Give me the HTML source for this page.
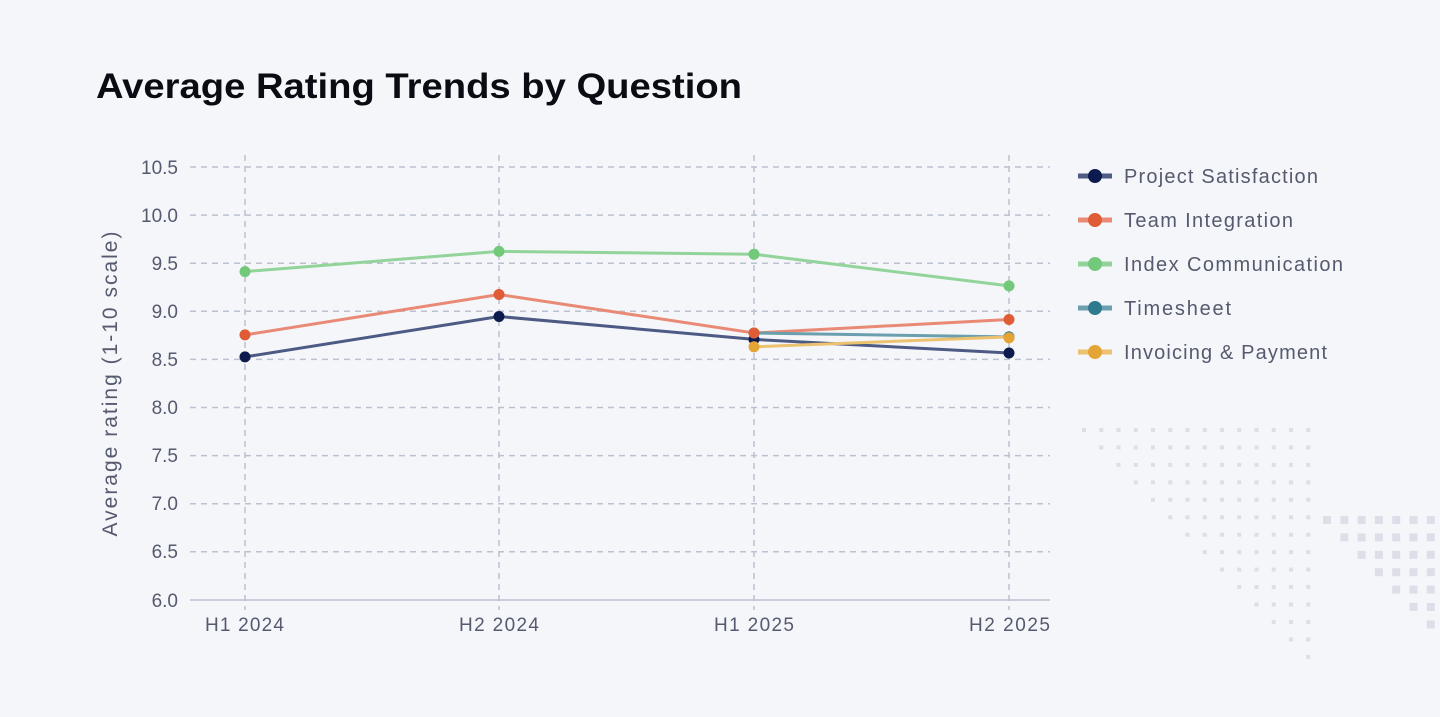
<!DOCTYPE html>
<html><head><meta charset="utf-8"><style>
html,body{margin:0;padding:0;background:#f4f6fa;}
body{width:1440px;height:712px;overflow:hidden;font-family:"Liberation Sans",sans-serif;}
</style></head><body>
<svg id="s" width="1440" height="712" xmlns="http://www.w3.org/2000/svg" font-family="Liberation Sans, sans-serif">
<rect width="1440" height="712" fill="#f4f6fa"/>
<text x="96" y="98" font-size="35" font-weight="bold" fill="#0b0b14" textLength="646" lengthAdjust="spacingAndGlyphs">Average Rating Trends by Question</text>
<g id="dots"></g>
<g stroke="#bcc1d0" stroke-width="1.5" stroke-dasharray="6,5">
<line x1="190" x2="1050" y1="167" y2="167"/><line x1="190" x2="1050" y1="215.1" y2="215.1"/>
<line x1="190" x2="1050" y1="263.2" y2="263.2"/><line x1="190" x2="1050" y1="311.3" y2="311.3"/>
<line x1="190" x2="1050" y1="359.4" y2="359.4"/><line x1="190" x2="1050" y1="407.5" y2="407.5"/>
<line x1="190" x2="1050" y1="455.6" y2="455.6"/><line x1="190" x2="1050" y1="503.7" y2="503.7"/>
<line x1="190" x2="1050" y1="551.8" y2="551.8"/>
<line x1="245" x2="245" y1="155" y2="610"/><line x1="499" x2="499" y1="155" y2="610"/>
<line x1="754" x2="754" y1="155" y2="610"/><line x1="1009" x2="1009" y1="155" y2="610"/>
</g>
<line x1="190" x2="1050" y1="600" y2="600" stroke="#bcc1d0" stroke-width="1.5"/>
<g font-size="19" fill="#555a6e" text-anchor="end">
<text x="178" y="174">10.5</text><text x="178" y="222">10.0</text><text x="178" y="270">9.5</text>
<text x="178" y="318">9.0</text><text x="178" y="366">8.5</text><text x="178" y="414">8.0</text>
<text x="178" y="462">7.5</text><text x="178" y="510">7.0</text><text x="178" y="558">6.5</text>
<text x="178" y="607">6.0</text>
</g>
<g font-size="19" fill="#555a6e">
<text x="205" y="631" textLength="79">H1 2024</text><text x="459" y="631" textLength="80">H2 2024</text>
<text x="714" y="631" textLength="80">H1 2025</text><text x="969" y="631" textLength="81">H2 2025</text>
</g>
<text transform="translate(117,384) rotate(-90)" font-size="21" fill="#555a6e" text-anchor="middle" textLength="305">Average rating (1-10 scale)</text>
<g fill="none" stroke-width="3">
<polyline points="245,271.6 499,251.4 754,254.2 1009,285.9" stroke="#92d49a"/>
<polyline points="245,334.9 499,294.5 754,333 1009,319.5" stroke="#e98a76"/>
<polyline points="245,356.9 499,316.5 754,339.4 1009,353" stroke="#4c5a84"/>
<polyline points="754,333 1009,336.9" stroke="#6b9fae"/>
<polyline points="754,346.8 1009,336.9" stroke="#ecc26e"/>
</g>
<g>
<circle cx="245" cy="271.6" r="5.5" fill="#72c97a"/><circle cx="499" cy="251.4" r="5.5" fill="#72c97a"/><circle cx="754" cy="254.2" r="5.5" fill="#72c97a"/><circle cx="1009" cy="285.9" r="5.5" fill="#72c97a"/>
<circle cx="245" cy="356.9" r="5.5" fill="#0c1a4e"/><circle cx="499" cy="316.5" r="5.5" fill="#0c1a4e"/><circle cx="754" cy="339.4" r="5.5" fill="#0c1a4e"/><circle cx="1009" cy="353" r="5.5" fill="#0c1a4e"/>
<circle cx="754" cy="333" r="5.5" fill="#2f7a8c"/><circle cx="1009" cy="336.9" r="5.5" fill="#2f7a8c"/>
<circle cx="754" cy="346.8" r="5.5" fill="#e5a535"/><circle cx="1009" cy="337.9" r="5.5" fill="#e5a535"/>
<circle cx="245" cy="334.9" r="5.5" fill="#e05c36"/><circle cx="499" cy="294.5" r="5.5" fill="#e05c36"/><circle cx="754" cy="333" r="5.5" fill="#e05c36"/><circle cx="1009" cy="319.5" r="5.5" fill="#e05c36"/>
</g>
<g font-size="20" fill="#555a6e">
<line x1="1078" x2="1112" y1="176" y2="176" stroke="#4c5a84" stroke-width="5"/><circle cx="1095" cy="176" r="7" fill="#0c1a4e"/><text x="1124" y="183" textLength="194">Project Satisfaction</text>
<line x1="1078" x2="1112" y1="220" y2="220" stroke="#e98a76" stroke-width="5"/><circle cx="1095" cy="220" r="7" fill="#e05c36"/><text x="1124" y="227" textLength="169">Team Integration</text>
<line x1="1078" x2="1112" y1="264" y2="264" stroke="#92d49a" stroke-width="5"/><circle cx="1095" cy="264" r="7" fill="#72c97a"/><text x="1124" y="271" textLength="219">Index Communication</text>
<line x1="1078" x2="1112" y1="308" y2="308" stroke="#6b9fae" stroke-width="5"/><circle cx="1095" cy="308" r="7" fill="#2f7a8c"/><text x="1124" y="315" textLength="107">Timesheet</text>
<line x1="1078" x2="1112" y1="352" y2="352" stroke="#ecc26e" stroke-width="5"/><circle cx="1095" cy="352" r="7" fill="#e5a535"/><text x="1124" y="359" textLength="203">Invoicing &amp; Payment</text>
</g>
</svg>
<script>
var g=document.getElementById('dots'),h='';
for(var j=0;j<14;j++)for(var i=j;i<14;i++){var x=1084+17.25*i,y=430+17.45*j;h+='<rect x="'+(x-2)+'" y="'+(y-2)+'" width="4" height="4" fill="#dcdfe8"/>';}
for(var j=0;j<7;j++)for(var i=j;i<7;i++){var x=1327+17.3*i,y=520+17.4*j;h+='<rect x="'+(x-4)+'" y="'+(y-4)+'" width="8" height="8" fill="#dcdfe8"/>';}
g.innerHTML=h;
</script>
</body></html>
